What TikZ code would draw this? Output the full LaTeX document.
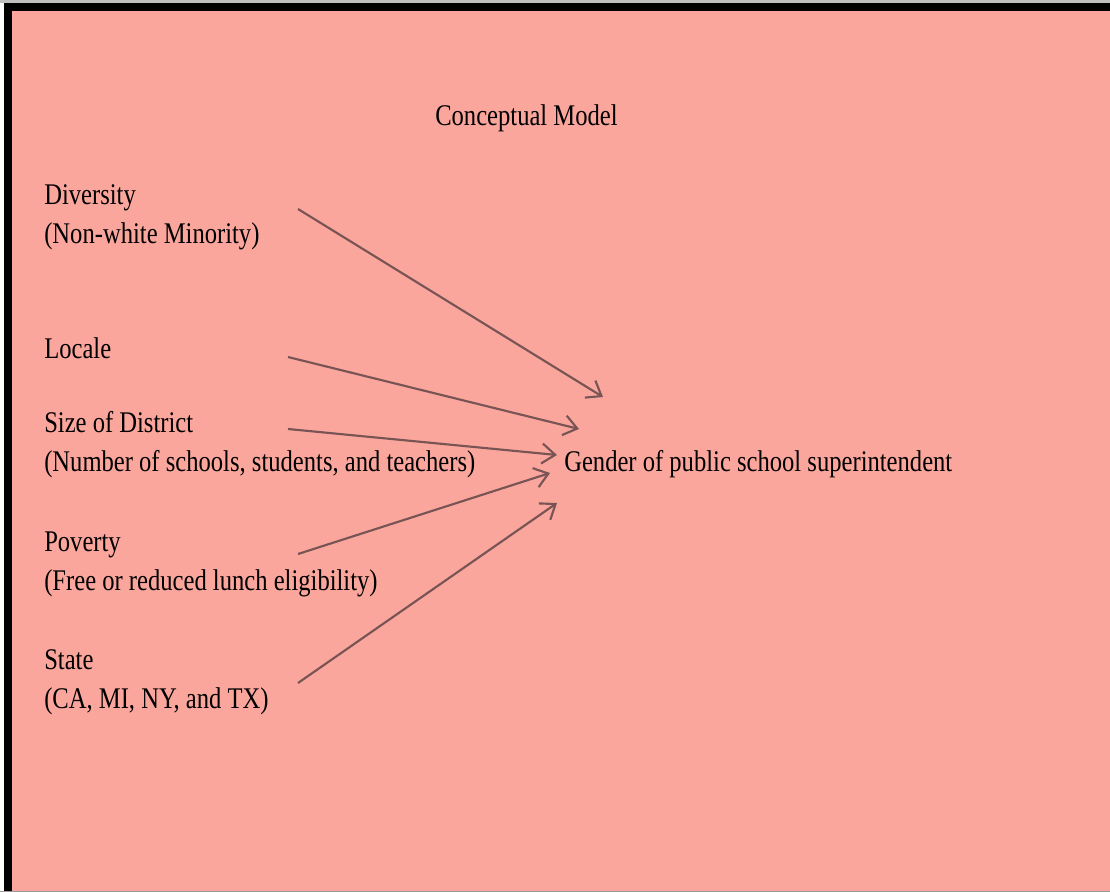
\documentclass[tikz,border=0pt]{standalone}
\usepackage{fontspec}
\setmainfont{Liberation Serif}[FakeStretch=0.82]
\usetikzlibrary{arrows.meta}
\definecolor{sheet}{RGB}{251,166,156}
\definecolor{linkgray}{RGB}{120,84,84}

\begin{document}
\begin{tikzpicture}[x=0.75pt,y=-0.75pt,
	factor/.style={anchor=base west,inner sep=0pt,align=left,
		font=\fontsize{22.5pt}{29.25pt}\selectfont},
	link/.style={-{Straight Barb[length=10pt,width=15pt]},line width=1.6pt,draw=linkgray}]
				\useasboundingbox (0,0) rectangle (1110,892);
				% sheet and its frame
				\fill[white] (0,0) rectangle (1110,892);
				\fill[sheet] (4,3) rectangle (1110,891);
				\fill[black!25] (0,0) rectangle (1110,3);
				\fill[black] (4,3.5) rectangle (1110,11);
				\fill[black] (4,3.5) rectangle (12,892);
				\fill[black!40] (0,891) rectangle (1110,892);
				% texts (two-line nodes sit on their last baseline)
				\node[factor] (title) at (435,125) {Conceptual Model};
				\node[factor] (div) at (44,243) {Diversity\\(Non-white Minority)};
				\node[factor] (loc) at (44,358) {Locale};
				\node[factor] (size) at (44,471) {Size of District\\(Number of schools, students, and teachers)};
				\node[factor] (pov) at (44,590) {Poverty\\(Free or reduced lunch eligibility)};
				\node[factor] (state) at (44,708) {State\\(CA, MI, NY, and TX)};
				\node[factor] (gender) at (564,471) {Gender of public school superintendent};
				% arrow ends
				\coordinate (div-out) at (298,209);
				\coordinate (loc-out) at (288,357);
				\coordinate (size-out) at (288,429);
				\coordinate (pov-out) at (298,554);
				\coordinate (state-out) at (298,683);
				\coordinate (div-in) at (603,397);
				\coordinate (loc-in) at (579,429);
				\coordinate (size-in) at (557,455);
				\coordinate (pov-in) at (550,473);
				\coordinate (state-in) at (557,503);
				\draw[link] (div-out) to (div-in);
				\draw[link] (loc-out) to (loc-in);
				\draw[link] (size-out) to (size-in);
				\draw[link] (pov-out) to (pov-in);
				\draw[link] (state-out) to (state-in);
			\end{tikzpicture}
\end{document}
